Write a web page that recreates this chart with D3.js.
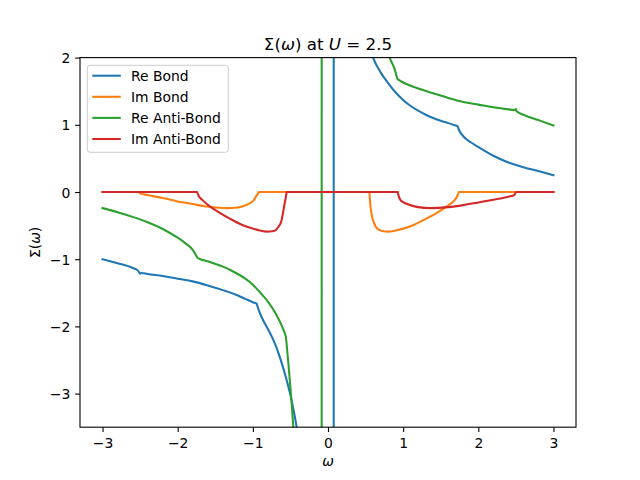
<!DOCTYPE html>
<html><head><meta charset="utf-8">
<script src="https://cdn.jsdelivr.net/npm/d3@7"></script>
<style>body{margin:0;background:#fff}svg{display:block}text{font-family:"DejaVu Sans",sans-serif;fill:#000}</style>
</head><body><svg id="c" width="640" height="480"></svg>
<script>
const seriesNames = ["Re Bond", "Im Bond", "Re Anti-Bond", "Im Anti-Bond"];
const seriesColors = ["#1f77b4", "#ff7f0e", "#2ca02c", "#d62728"];
const xTicks = [-3, -2, -1, 0, 1, 2, 3];
const yTicks = [-3, -2, -1, 0, 1, 2];

const reBondX = [-3.0,-2.8,-2.6,-2.53,-2.50,-2.48,-2.4,-2.2,-2.0,-1.8,-1.6,-1.4,-1.2,-1.1,-1.0,-0.95,-0.92,-0.884,-0.8,-0.72,-0.64,-0.55,-0.48,-0.417,-0.35,-0.25,-0.1,0.0,0.075,0.077,0.15,0.3,0.45,0.6,0.7,0.8,0.9,1.0,1.1,1.2,1.3,1.4,1.5,1.6,1.7,1.724,1.74,1.8,1.9,2.0,2.2,2.4,2.6,2.8,3.0];
const reBondY = [-1.00,-1.06,-1.13,-1.17,-1.215,-1.205,-1.22,-1.25,-1.29,-1.33,-1.39,-1.46,-1.54,-1.59,-1.64,-1.66,-1.76,-1.86,-2.04,-2.22,-2.46,-2.80,-3.12,-3.50,-4.0,-5.2,-9,-20,-400,400,15,4.5,2.7,2.0,1.78,1.62,1.48,1.37,1.28,1.21,1.15,1.10,1.06,1.025,0.99,0.98,0.93,0.83,0.74,0.67,0.54,0.44,0.37,0.31,0.25];
const reBondBreaks = [-2.50, -0.95, 0.075, 0.077, 1.724];

const imBondX = [-3.0,-2.52,-2.50,-2.4,-2.2,-2.0,-1.8,-1.62,-1.45,-1.35,-1.2,-1.08,-1.0,-0.97,-0.94,-0.92,0.551,0.56,0.582,0.62,0.65,0.72,0.805,0.95,1.14,1.3,1.45,1.6,1.67,1.72,1.74,3.0];
const imBondY = [0,0,-0.02,-0.045,-0.09,-0.14,-0.18,-0.215,-0.235,-0.24,-0.23,-0.19,-0.135,-0.09,-0.035,0,0,-0.15,-0.34,-0.48,-0.54,-0.58,-0.59,-0.56,-0.49,-0.40,-0.31,-0.20,-0.14,-0.06,0,0];
const imBondBreaks = [-2.52, -0.92, 0.551, 1.74];

const reAntiX = [-3.0,-2.8,-2.6,-2.4,-2.2,-2.0,-1.9,-1.8,-1.737,-1.7,-1.6,-1.5,-1.4,-1.3,-1.2,-1.1,-1.0,-0.9,-0.8,-0.7,-0.6,-0.56,-0.45,-0.35,-0.2,-0.085,-0.083,0.2,0.5,0.7,0.82,0.88,0.924,1.0,1.1,1.2,1.4,1.6,1.8,2.0,2.2,2.4,2.48,2.50,2.51,2.6,2.8,3.0];
const reAntiY = [-0.24,-0.30,-0.37,-0.45,-0.55,-0.68,-0.76,-0.86,-0.98,-1.00,-1.03,-1.07,-1.11,-1.16,-1.22,-1.29,-1.38,-1.50,-1.63,-1.80,-2.03,-2.15,-3.7,-6,-12,-400,400,15,4,2.6,2.0,1.85,1.68,1.63,1.58,1.54,1.47,1.40,1.34,1.30,1.26,1.23,1.22,1.235,1.20,1.15,1.07,0.99];
const reAntiBreaks = [-1.737, -0.56, -0.085, -0.083, 0.924, 2.50];

const imAntiX = [-3.0,-1.742,-1.72,-1.68,-1.6,-1.44,-1.3,-1.14,-0.95,-0.82,-0.72,-0.66,-0.62,-0.60,-0.58,-0.56,-0.55,0.929,0.94,0.96,1.0,1.08,1.2,1.36,1.6,1.8,2.0,2.2,2.4,2.48,2.50,3.0];
const imAntiY = [0,0,-0.06,-0.11,-0.19,-0.31,-0.40,-0.49,-0.56,-0.59,-0.58,-0.52,-0.43,-0.32,-0.19,-0.07,0,0,-0.06,-0.11,-0.15,-0.19,-0.225,-0.24,-0.225,-0.195,-0.155,-0.115,-0.07,-0.045,0,0];
const imAntiBreaks = [-1.742, -0.55, 0.929, 2.50];

const seriesX = [reBondX, imBondX, reAntiX, imAntiX];
const seriesY = [reBondY, imBondY, reAntiY, imAntiY];
const seriesBreaks = [reBondBreaks, imBondBreaks, reAntiBreaks, imAntiBreaks];

const svg = d3.select("#c");
const L = 80, R = 576, T = 57.6, B = 427.2;
const x = d3.scaleLinear().domain([-3.3, 3.3]).range([L, R]);
const y = d3.scaleLinear().domain([-3.5, 2]).range([B, T]);

svg.append("defs").append("clipPath").attr("id","clip")
  .append("rect").attr("x",L).attr("y",T).attr("width",R-L).attr("height",B-T);

const line = d3.line().x(d=>x(d[0])).y(d=>y(d[1])).curve(d3.curveMonotoneX);
const g = svg.append("g").attr("clip-path","url(#clip)");
seriesNames.forEach((n,i)=>{
  const pts = seriesX[i].map((v,j)=>[v, seriesY[i][j]]);
  const segs = []; let cur = [];
  pts.forEach(p=>{
    cur.push(p);
    if (seriesBreaks[i].some(b=>Math.abs(b-p[0])<1e-9)) { segs.push(cur); cur=[p]; }
  });
  if (cur.length>1) segs.push(cur);
  const d = segs.map((s,k)=>{ const ps = line(s); return k===0 ? ps : "L"+ps.slice(1); }).join("");
  g.append("path").attr("d",d)
    .attr("fill","none").attr("stroke",seriesColors[i]).attr("stroke-width",2.08)
    .attr("stroke-linejoin","round").attr("stroke-linecap","square");
});

const fmt = v => (v<0?"\u2212":"") + Math.abs(v);
const xa = svg.append("g").attr("transform",`translate(0,${B})`)
  .call(d3.axisBottom(x).tickValues(xTicks).tickFormat(fmt).tickSize(4.86).tickPadding(3.5));
const ya = svg.append("g").attr("transform",`translate(${L},0)`)
  .call(d3.axisLeft(y).tickValues(yTicks).tickFormat(fmt).tickSize(4.86).tickPadding(4.86));
[xa,ya].forEach(a=>{
  a.select(".domain").remove();
  a.selectAll("line").attr("stroke","#000").attr("stroke-width",1.1);
  a.selectAll("text").attr("font-family","DejaVu Sans").attr("font-size","13.9px").attr("fill","#000");
});
xa.selectAll("text").attr("dy",null).attr("y",20.8);
ya.selectAll("text").attr("dy","0.36em");

svg.append("rect").attr("x",L).attr("y",T).attr("width",R-L).attr("height",B-T)
  .attr("fill","none").attr("stroke","#000").attr("stroke-width",1.1);

const t = svg.append("text").attr("x",(L+R)/2).attr("y",49.5).attr("text-anchor","middle").attr("font-size","16.7px");
t.append("tspan").text("Σ(");
t.append("tspan").attr("font-style","italic").text("ω");
t.append("tspan").text(") at ");
t.append("tspan").attr("font-style","italic").text("U");
t.append("tspan").text(" = 2.5");

svg.append("text").attr("x",(L+R)/2).attr("y",466).attr("text-anchor","middle")
  .attr("font-size","13.9px").attr("font-style","italic").text("ω");
const yl = svg.append("text").attr("transform",`translate(40,${(T+B)/2}) rotate(-90)`)
  .attr("text-anchor","middle").attr("font-size","13.9px");
yl.append("tspan").text("Σ(");
yl.append("tspan").attr("font-style","italic").text("ω");
yl.append("tspan").text(")");

const lg = svg.append("g");
lg.append("rect").attr("x",87.3).attr("y",65.3).attr("width",141).attr("height",87).attr("rx",2.8)
  .attr("fill","#fff").attr("fill-opacity",0.8).attr("stroke","#cccccc").attr("stroke-width",1);
seriesNames.forEach((n,i)=>{
  const yy = 75.7 + i*21.1;
  lg.append("line").attr("x1",92.3).attr("x2",120.8).attr("y1",yy).attr("y2",yy)
    .attr("stroke",seriesColors[i]).attr("stroke-width",2.08);
  lg.append("text").attr("x",131).attr("y",yy+5).attr("font-size","13.9px").text(n);
});
</script></body></html>
